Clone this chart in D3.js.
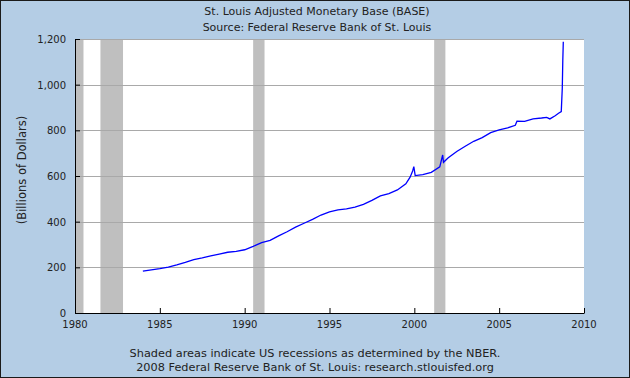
<!DOCTYPE html>
<html>
<head>
<meta charset="utf-8">
<script src="https://cdn.jsdelivr.net/npm/d3@7"></script>
<style>
  body { margin: 0; padding: 0; background: #fff; }
  svg { display: block; font-family: "DejaVu Sans", Verdana, sans-serif; }
</style>
</head>
<body>
<svg id="chart" width="630" height="378"></svg>
<script>
// St. Louis Adjusted Monetary Base (BASE)
const baseDates = [1984.0, 1984.5, 1985.0, 1985.5, 1986.0, 1986.5, 1987.0, 1987.5, 1988.0, 1988.5,
  1989.0, 1989.5, 1990.0, 1990.5, 1991.0, 1991.5, 1992.0, 1992.5, 1993.0, 1993.5,
  1994.0, 1994.5, 1995.0, 1995.5, 1996.0, 1996.5, 1997.0, 1997.5, 1998.0, 1998.5,
  1999.0, 1999.5, 1999.75, 1999.9, 1999.97, 2000.05, 2000.5, 2001.0, 2001.5, 2001.67,
  2001.72, 2002.0, 2002.5, 2003.0, 2003.5, 2004.0, 2004.5, 2005.0, 2005.5, 2005.95,
  2006.05, 2006.5, 2007.0, 2007.5, 2007.8, 2007.99, 2008.3, 2008.5, 2008.66, 2008.72,
  2008.75, 2008.78];
const baseValues = [183, 189, 194, 201, 211, 222, 234, 241, 250, 258,
  266, 270, 277, 292, 308, 318, 338, 356, 376, 393,
  410, 429, 443, 452, 456, 464, 476, 493, 513, 523,
  539, 566, 595, 622, 641, 602, 606, 616, 640, 692,
  660, 680, 707, 730, 752, 768, 790, 802, 811, 822,
  840, 839, 850, 854, 857, 850, 864, 875, 882, 984,
  1105, 1188];

// NBER recessions (start, end)
const recessionStarts = [1980.0, 1981.5, 1990.5, 2001.17];
const recessionEnds = [1980.5, 1982.83, 1991.17, 2001.83];

const yTicks = [0, 200, 400, 600, 800, 1000, 1200];
const xTicks = [1980, 1985, 1990, 1995, 2000, 2005, 2010];

const titleLines = ["St. Louis Adjusted Monetary Base (BASE)", "Source: Federal Reserve Bank of St. Louis"];
const footLines = ["Shaded areas indicate US recessions as determined by the NBER.",
  "2008 Federal Reserve Bank of St. Louis: research.stlouisfed.org"];

const svg = d3.select("#chart");
const W = +svg.attr("width"), H = +svg.attr("height");
const margin = { top: 39, right: 46, bottom: 65, left: 75 };
const width = W - margin.left - margin.right;
const height = H - margin.top - margin.bottom;

// fons
svg.append("rect")
  .attr("x", 0.5).attr("y", 0.5)
  .attr("width", W - 1).attr("height", H - 1)
  .attr("fill", "#b4cde5")
  .attr("stroke", "#1a1a1a");

const g = svg.append("g").attr("transform", `translate(${margin.left},${margin.top})`);

g.append("rect")
  .attr("width", width).attr("height", height)
  .attr("fill", "#ffffff");

const x = d3.scaleLinear().domain([1980, 2010]).range([0, width]);
const y = d3.scaleLinear().domain([0, 1200]).range([height, 0]);

// recessions
g.selectAll(".rec")
  .data(recessionStarts)
  .enter().append("rect")
  .attr("class", "rec")
  .attr("x", (d, i) => x(d))
  .attr("y", 0)
  .attr("width", (d, i) => x(recessionEnds[i]) - x(d))
  .attr("height", height)
  .attr("fill", "#bfbfbf");

// gridlines
g.selectAll(".grid")
  .data(yTicks.filter(d => d > 0))
  .enter().append("line")
  .attr("class", "grid")
  .attr("x1", 0).attr("x2", width)
  .attr("y1", d => Math.round(y(d)) + 0.5)
  .attr("y2", d => Math.round(y(d)) + 0.5)
  .attr("stroke", "#a9a9a9")
  .attr("stroke-width", 1);

// line
const data = baseDates.map((d, i) => ({ t: d, v: baseValues[i] }));
g.append("path")
  .datum(data)
  .attr("fill", "none")
  .attr("stroke", "#0000ff")
  .attr("stroke-width", 1.3)
  .attr("d", d3.line().x(d => x(d.t)).y(d => y(d.v)));

// eixos
const yAxis = g.append("g")
  .call(d3.axisRight(y).tickValues(yTicks).tickSize(5).tickFormat(d3.format(",")));
yAxis.select(".domain").remove();
yAxis.selectAll("text").remove();
yAxis.selectAll("line").attr("stroke", "#000");

g.selectAll(".ylab")
  .data(yTicks)
  .enter().append("text")
  .attr("x", -9)
  .attr("y", d => y(d) + 4)
  .attr("text-anchor", "end")
  .attr("font-size", "10px")
  .attr("fill", "#222")
  .text(d => d3.format(",")(d));

const xAxis = g.append("g")
  .attr("transform", `translate(0,${height})`)
  .call(d3.axisTop(x).tickValues(xTicks).tickSize(5));
xAxis.select(".domain").remove();
xAxis.selectAll("text").remove();
xAxis.selectAll("line").attr("stroke", "#000");

g.selectAll(".xlab")
  .data(xTicks)
  .enter().append("text")
  .attr("x", d => x(d))
  .attr("y", height + 15)
  .attr("text-anchor", "middle")
  .attr("font-size", "10px")
  .attr("fill", "#222")
  .text(d => d);

g.append("line")
  .attr("x1", 0.5).attr("x2", 0.5).attr("y1", 0).attr("y2", height + 0.5)
  .attr("stroke", "#000");
g.append("line")
  .attr("x1", 0).attr("x2", width + 0.5).attr("y1", height + 0.5).attr("y2", height + 0.5)
  .attr("stroke", "#000");

// titols
svg.selectAll(".title")
  .data(titleLines)
  .enter().append("text")
  .attr("x", 317)
  .attr("y", (d, i) => 15 + i * 16)
  .attr("text-anchor", "middle")
  .attr("font-size", "11px")
  .attr("fill", "#222")
  .text(d => d);

svg.selectAll(".foot")
  .data(footLines)
  .enter().append("text")
  .attr("x", 315)
  .attr("y", (d, i) => 357 + i * 14)
  .attr("text-anchor", "middle")
  .attr("font-size", "11.3px")
  .attr("fill", "#222")
  .text(d => d);

svg.append("text")
  .attr("transform", `translate(26,170) rotate(-90)`)
  .attr("text-anchor", "middle")
  .attr("font-size", "11.5px")
  .attr("fill", "#222")
  .text("(Billions of Dollars)");
</script>
</body>
</html>
